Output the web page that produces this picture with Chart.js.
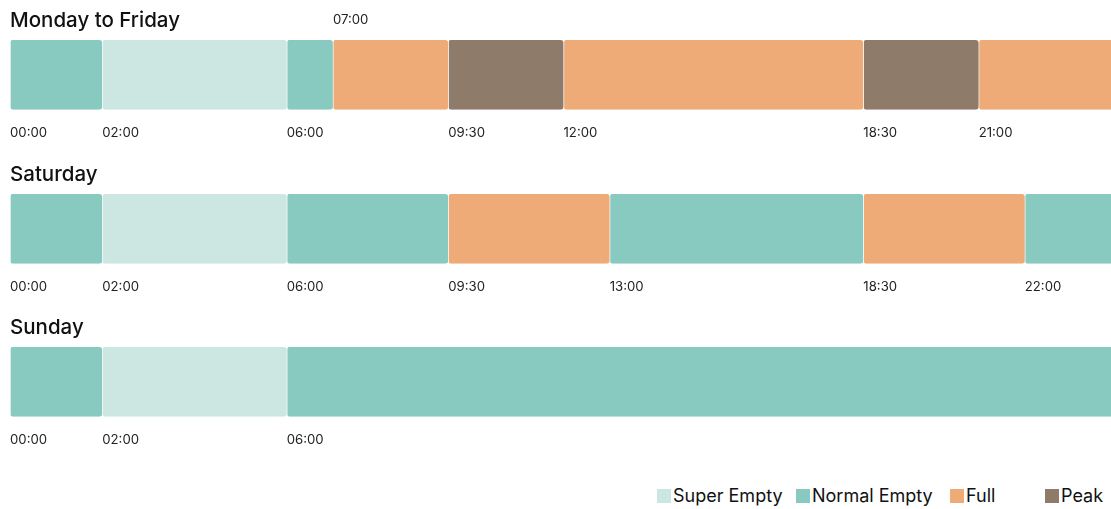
<!DOCTYPE html>
<html>
<head>
<meta charset="utf-8">
<script src="https://cdn.jsdelivr.net/npm/chart.js@4"></script>
<style>
  html, body { margin: 0; padding: 0; background: #fff; overflow: hidden; }
  #wrap { position: relative; width: 1111px; height: 509px; overflow: hidden; }
  #wrap canvas { position: absolute; left: 0; }
  .legend-item { position: absolute; top: 486px; font: 18px Inter, sans-serif; color: #111; line-height: 20px; white-space: nowrap; }
  .legend-item span { display: inline-block; width: 14px; height: 14px; vertical-align: -1px; margin-right: 2px; }
</style>
</head>
<body>
<div id="wrap">
  <canvas id="weekday" width="1124" height="141" style="top:0px"></canvas>
  <canvas id="saturday" width="1124" height="141" style="top:154px"></canvas>
  <canvas id="sunday" width="1124" height="141" style="top:307px"></canvas>
</div>
<script>
// tariff periods, hours from midnight
const categories = ['Super Empty', 'Normal Empty', 'Full', 'Peak'];
const categoryColors = ['#CCE7E2', '#88CAC0', '#EEAB77', '#8F7B6A'];
const dayEnd = 24;

const weekdayStarts = [0, 2, 6, 7, 9.5, 12, 18.5, 21];
const weekdayTypes = ['Normal Empty', 'Super Empty', 'Normal Empty', 'Full', 'Peak', 'Full', 'Peak', 'Full'];
const weekdayBottomTicks = [0, 2, 6, 9.5, 12, 18.5, 21];
const weekdayTopTicks = [7];

const saturdayStarts = [0, 2, 6, 9.5, 13, 18.5, 22];
const saturdayTypes = ['Normal Empty', 'Super Empty', 'Normal Empty', 'Full', 'Normal Empty', 'Full', 'Normal Empty'];

const sundayStarts = [0, 2, 6];
const sundayTypes = ['Normal Empty', 'Super Empty', 'Normal Empty'];

// legend layout (left edge of each item)
const legendLeft = [657, 796, 950, 1045];

const fontFamily = 'Inter, sans-serif';
const tickSize = 13.2;

function fmt(v) {
  const h = Math.floor(v);
  const m = Math.round((v - h) * 60);
  return String(h).padStart(2, '0') + ':' + String(m).padStart(2, '0');
}

function colorOf(type) {
  return categoryColors[categories.indexOf(type)];
}

function timeAxis(position, tickValues, padding) {
  return {
    type: 'linear',
    position: position,
    min: 0,
    max: dayEnd,
    afterBuildTicks: axis => { axis.ticks = tickValues.map(v => ({ value: v })); },
    // chart.js reserves the tick padding twice and also on the sides, undo that
    afterFit: axis => {
      axis.paddingLeft = 0;
      axis.paddingRight = 0;
      axis.height = tickSize * 1.2 + padding;
    },
    ticks: {
      align: 'start',
      autoSkip: false,
      maxRotation: 0,
      padding: padding,
      color: '#222',
      font: { family: fontFamily, size: tickSize },
      callback: v => fmt(v)
    },
    grid: { display: false, drawTicks: false },
    border: { display: false }
  };
}

function makeDay(id, title, starts, types, bottomTicks, topTicks) {
  const datasets = starts.map((s, i) => ({
    label: types[i],
    data: [[s, i + 1 < starts.length ? starts[i + 1] : dayEnd]],
    backgroundColor: colorOf(types[i]),
    borderColor: '#ffffff',
    borderWidth: { left: 1, right: 0, top: 0, bottom: 0 },
    borderSkipped: false,
    borderRadius: 3,
    grouped: false,
    barPercentage: 1,
    categoryPercentage: 1
  }));

  const scales = {
    x: timeAxis('bottom', bottomTicks, 15.5),
    y: { type: 'category', display: false }
  };
  if (topTicks) scales.x2 = timeAxis('top', topTicks, 11.7);

  new Chart(document.getElementById(id), {
    type: 'bar',
    data: { labels: [title], datasets: datasets },
    options: {
      indexAxis: 'y',
      responsive: false,
      animation: false,
      layout: { padding: { left: 10, right: 7, top: 0, bottom: 0 } },
      scales: scales,
      plugins: {
        legend: { display: false },
        tooltip: { enabled: false },
        title: {
          display: true,
          text: title,
          align: 'start',
          color: '#111',
          font: { family: fontFamily, size: 20.5, weight: '500' },
          padding: { top: 8.7, bottom: topTicks ? -20.84 : 6.7 }
        }
      }
    }
  });
}

makeDay('weekday', 'Monday to Friday', weekdayStarts, weekdayTypes, weekdayBottomTicks, weekdayTopTicks);
makeDay('saturday', 'Saturday', saturdayStarts, saturdayTypes, saturdayStarts, null);
makeDay('sunday', 'Sunday', sundayStarts, sundayTypes, sundayStarts, null);

// legend
const wrap = document.getElementById('wrap');
categories.forEach((c, i) => {
  const item = document.createElement('div');
  item.className = 'legend-item';
  item.style.left = legendLeft[i] + 'px';
  const box = document.createElement('span');
  box.style.background = categoryColors[i];
  item.appendChild(box);
  item.appendChild(document.createTextNode(c));
  wrap.appendChild(item);
});
</script>
</body>
</html>
